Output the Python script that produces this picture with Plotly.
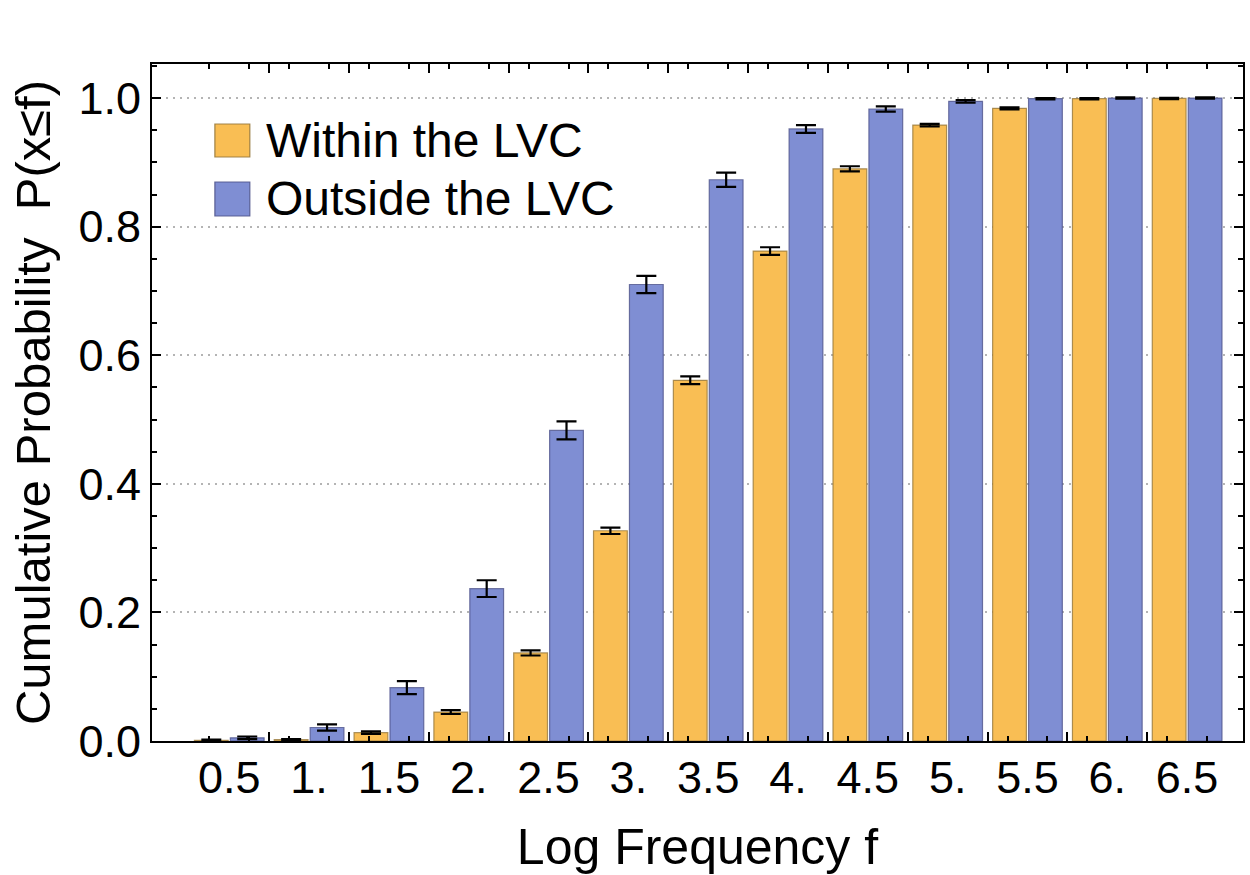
import plotly.graph_objects as go

# ---- data ----
log_freq = [0.5, 1.0, 1.5, 2.0, 2.5, 3.0, 3.5, 4.0, 4.5, 5.0, 5.5, 6.0, 6.5]
tick_labels = ["0.5", "1.", "1.5", "2.", "2.5", "3.", "3.5", "4.", "4.5", "5.", "5.5", "6.", "6.5"]

within_lvc = [0.001, 0.002, 0.013, 0.045, 0.137, 0.327, 0.561, 0.762, 0.890, 0.958, 0.984, 0.999, 0.9995]
within_err = [0.001, 0.001, 0.002, 0.003, 0.004, 0.005, 0.006, 0.006, 0.004, 0.002, 0.0015, 0.001, 0.001]

outside_lvc = [0.005, 0.021, 0.083, 0.237, 0.483, 0.710, 0.873, 0.952, 0.983, 0.995, 0.999, 1.0, 1.0]
outside_err = [0.002, 0.005, 0.010, 0.013, 0.014, 0.0135, 0.011, 0.006, 0.004, 0.002, 0.001, 0.001, 0.001]

series_names = ["Within the LVC", "Outside the LVC"]
ORANGE = "#F9BE54"
BLUE = "#7F8ED3"

# ---- layout geometry ----
W, H = 1250, 875
L, R, T, B = 152, 5, 64, 134
x_range = [0.016, 6.85]
y_range = [0, 1.053]

font_family = "Liberation Sans, Arial, sans-serif"

fig = go.Figure()
for name, vals, errs, col, edge in [
    (series_names[0], within_lvc, within_err, ORANGE, "rgba(150,120,60,0.8)"),
    (series_names[1], outside_lvc, outside_err, BLUE, "rgba(80,85,140,0.8)"),
]:
    fig.add_trace(go.Bar(
        x=log_freq, y=vals, name=name,
        marker=dict(color=col, line=dict(color=edge, width=1.2)),
        error_y=dict(type="data", array=errs, visible=True, color="black",
                     thickness=2.2, width=10),
        showlegend=False,
    ))

# empty trace to hold the overlay tick axis
fig.add_trace(go.Scatter(x=[], y=[], xaxis="x2", yaxis="y", showlegend=False))

boundaries = [v + 0.25 for v in log_freq[:-1]]
bar_centers = []
for v in log_freq:
    bar_centers += [v - 0.125, v + 0.125]

fig.update_layout(
    width=W, height=H,
    margin=dict(l=L, r=R, t=T, b=B, pad=0),
    paper_bgcolor="white", plot_bgcolor="white",
    barmode="group", bargap=0.1, bargroupgap=0.06,
    font=dict(family=font_family, color="black"),
    xaxis=dict(
        range=x_range, tickmode="array", tickvals=log_freq, ticktext=tick_labels,
        ticks="", showgrid=False, zeroline=False,
        showline=True, linecolor="black", linewidth=2, mirror=True,
        tickfont=dict(size=45), ticklabelstandoff=-4,
        title=dict(text="Log Frequency f", font=dict(size=50), standoff=27),
    ),
    xaxis2=dict(
        overlaying="x", anchor="y", side="bottom", range=x_range,
        showticklabels=False, showgrid=False, zeroline=False, showline=False,
        ticks="inside", tickmode="array", tickvals=boundaries,
        ticklen=9, tickwidth=1.5, tickcolor="black", mirror="ticks",
        minor=dict(ticks="inside", tickmode="array", tickvals=bar_centers,
                   ticklen=5, tickwidth=1.5, tickcolor="black"),
    ),
    yaxis=dict(
        range=y_range, tickmode="array", tickvals=[0, 0.2, 0.4, 0.6, 0.8, 1.0],
        ticktext=["0.0", "0.2", "0.4", "0.6", "0.8", "1.0"],
        ticks="inside", ticklen=9, tickwidth=1.5, tickcolor="black",
        minor=dict(ticks="inside", dtick=0.05, tick0=0, ticklen=5, tickwidth=1.5,
                   tickcolor="black", showgrid=False),
        showline=True, linecolor="black", linewidth=2, mirror="ticks",
        showgrid=True, gridcolor="#b4b4b4", gridwidth=1.5, griddash="2px,5px",
        zeroline=False,
        tickfont=dict(size=45), ticklabelstandoff=0,
        title=dict(text="Cumulative Probability  P(x≤f)", font=dict(size=49), standoff=12),
    ),
)

# ---- legend (drawn as shapes + text) ----
def px_to_paper_x(px):
    return (px - L) / (W - L - R)

def px_to_paper_y(py):
    return (H - B - py) / (H - T - B)

legend_items = [(series_names[0], ORANGE, "rgba(150,120,60,0.9)", 124, 157),
                (series_names[1], BLUE, "rgba(80,85,140,0.9)", 182, 216)]
for name, col, edge, y0, y1 in legend_items:
    fig.add_shape(type="rect", xref="paper", yref="paper",
                  x0=px_to_paper_x(215), x1=px_to_paper_x(250),
                  y0=px_to_paper_y(y1), y1=px_to_paper_y(y0),
                  fillcolor=col, line=dict(color=edge, width=1.2))
    fig.add_annotation(xref="paper", yref="paper", x=px_to_paper_x(264),
                       y=px_to_paper_y((y0 + y1) / 2), text=name, showarrow=False,
                       xanchor="left", yanchor="middle", font=dict(size=48))

fig.write_html("out.html")
